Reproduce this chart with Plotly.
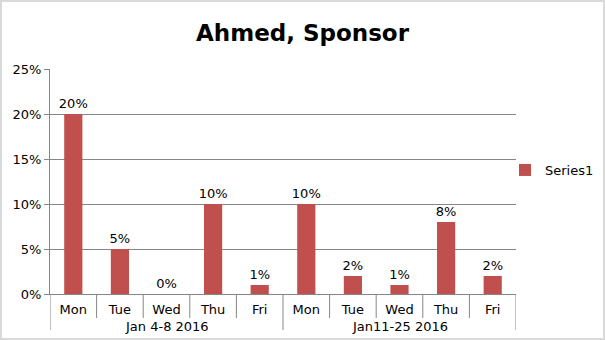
import plotly.graph_objects as go

group_names = ["Jan 4-8 2016", "Jan11-25 2016"]
days = ["Mon", "Tue", "Wed", "Thu", "Fri", "Mon", "Tue", "Wed", "Thu", "Fri"]
values = [0.20, 0.05, 0.00, 0.10, 0.01, 0.10, 0.02, 0.01, 0.08, 0.02]
labels = ["20%", "5%", "0%", "10%", "1%", "10%", "2%", "1%", "8%", "2%"]
yticks = [0, 0.05, 0.10, 0.15, 0.20, 0.25]
ytick_text = ["0%", "5%", "10%", "15%", "20%", "25%"]

W, H = 605, 340
L, R, T, B = 50, 89, 69, 46
pw, ph = W - L - R, H - T - B

font = "DejaVu Sans"
axis_col = "#868686"
idx = list(range(len(days)))
group_size = 5

fig = go.Figure()
fig.add_trace(go.Bar(
    x=idx, y=values, name="Series1",
    marker=dict(color="#C0504D", line=dict(width=0)),
    text=labels, textposition="outside", cliponaxis=False,
    constraintext="none",
    textfont=dict(family=font, size=13, color="#000000"),
    width=0.39,
))

fig.update_layout(
    width=W, height=H,
    margin=dict(l=L, r=R, t=T, b=B, autoexpand=False),
    paper_bgcolor="white", plot_bgcolor="white",
    title=dict(text="<b>Ahmed, Sponsor</b>", x=0.5, xanchor="center",
               y=1 - 33 / H, yanchor="middle",
               font=dict(family=font, size=23, color="#000000")),
    showlegend=True,
    legend=dict(x=(505 - L) / pw, y=(H - B - 170) / ph, xanchor="left", yanchor="middle",
                font=dict(family=font, size=13, color="#000000"),
                bgcolor="rgba(0,0,0,0)", itemwidth=30),
    font=dict(family=font, size=13, color="#000000"),
)
fig.update_yaxes(
    range=[0, 0.25], tickvals=yticks, ticktext=ytick_text,
    showgrid=True, gridcolor=axis_col, gridwidth=1,
    showline=True, linecolor=axis_col, linewidth=1,
    ticks="outside", ticklen=5, tickcolor=axis_col,
    tickfont=dict(family=font, size=13, color="#000000"),
    zeroline=False,
)
fig.update_xaxes(
    range=[-0.5, len(days) - 0.5], tickvals=idx, ticktext=days,
    showline=True, linecolor=axis_col, linewidth=1,
    ticks="", ticklabelstandoff=3,
    tickfont=dict(family=font, size=13, color="#000000"),
    showgrid=False, zeroline=False,
)

# category boundary ticks and group dividers
for k in range(len(days) + 1):
    b = k - 0.5
    is_group = (k % group_size == 0)
    fig.add_shape(type="line", xref="x", yref="paper",
                  x0=b, x1=b, y0=0, y1=-(36 if is_group else 24) / ph,
                  line=dict(color=axis_col, width=1))
for g, name in enumerate(group_names):
    fig.add_annotation(x=g * group_size + (group_size - 1) / 2, xref="x",
                       y=-32 / ph, yref="paper", text=name, showarrow=False,
                       xanchor="center", yanchor="middle",
                       font=dict(family=font, size=13, color="#000000"))

fig.add_shape(type="rect", xref="paper", yref="paper",
              x0=-(L - 1) / pw, x1=(W - L - 1) / pw,
              y0=-(B - 1) / ph, y1=(H - B - 1) / ph,
              line=dict(color="#D9D9D9", width=2), layer="below")

fig.write_html("out.html")
